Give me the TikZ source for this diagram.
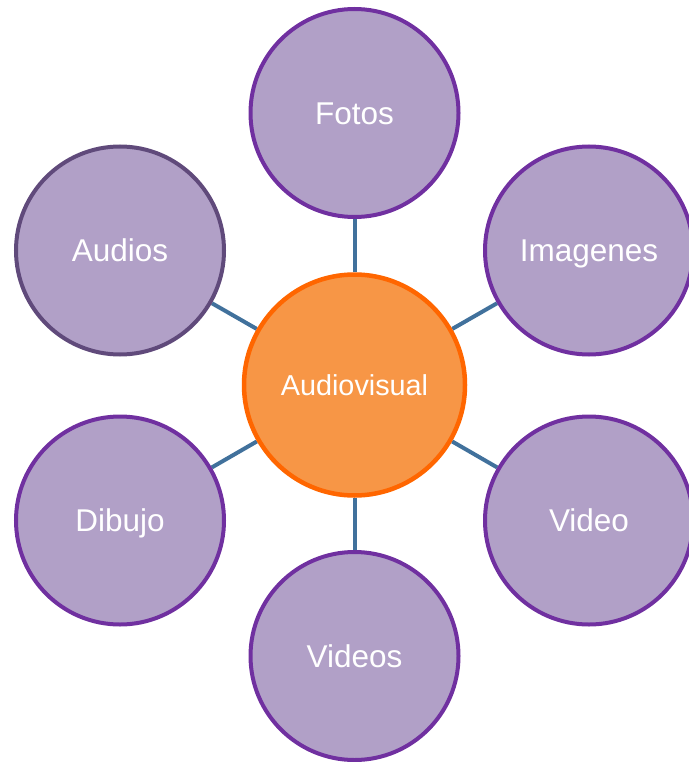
\documentclass[tikz,border=0pt]{standalone}
\usepackage{fontspec}
\setmainfont{Liberation Sans}
\usetikzlibrary{backgrounds}
\definecolor{petal}{HTML}{B1A0C7}
\definecolor{petalline}{HTML}{7030A0}
\definecolor{petaldark}{HTML}{604A7B}
\definecolor{hubfill}{HTML}{F79646}
\definecolor{hubline}{HTML}{FF6600}
\definecolor{link}{HTML}{41719C}
\begin{document}
\begin{tikzpicture}[x=1pt,y=-1pt,
  petalnode/.style={circle, draw=petalline, fill=petal, line width=4pt, minimum size=208pt, inner sep=0pt, text=white, text height=22.5pt, text depth=0pt, font=\fontsize{31.5}{36}\selectfont},
  hubnode/.style={circle, draw=hubline, fill=hubfill, line width=4.5pt, minimum size=221pt, inner sep=0pt, text=white, text height=20.5pt, text depth=0pt, font=\fontsize{28.8}{34}\selectfont},
  linkline/.style={draw=link, line width=4pt}]
\useasboundingbox (0,0) rectangle (688,762);
\node[hubnode] (hub) at (354.5,385) {Audiovisual};
\node[petalnode] (fotos) at (354.5,113) {Fotos};
\node[petalnode, draw=petaldark] (audios) at (120,250.5) {Audios};
\node[petalnode] (imagenes) at (589,250.5) {Imagenes};
\node[petalnode] (dibujo) at (120,520.5) {Dibujo};
\node[petalnode] (video) at (589,520.5) {Video};
\node[petalnode] (videos) at (354.5,656) {Videos};
\begin{scope}[on background layer]
\foreach \n in {fotos,audios,imagenes,dibujo,video,videos}
  \draw[linkline] (hub) -- (\n);
\end{scope}
\end{tikzpicture}
\end{document}
